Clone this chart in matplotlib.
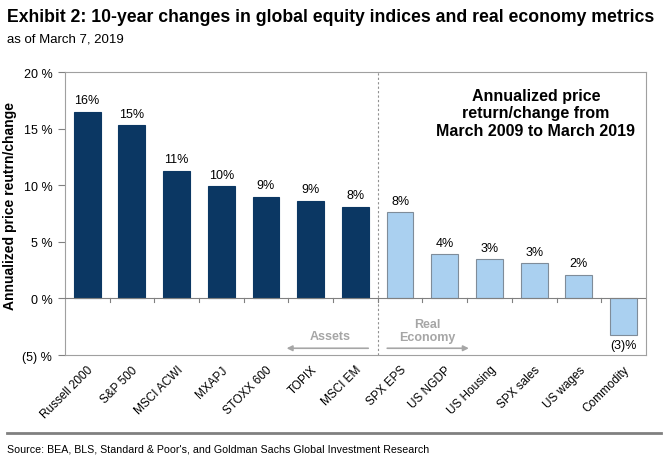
import matplotlib.pyplot as plt
from matplotlib.lines import Line2D

plt.rcParams['font.family'] = ['Liberation Sans', 'DejaVu Sans']

# data
categories = ['Russell 2000', 'S&P 500', 'MSCI ACWI', 'MXAPJ', 'STOXX 600', 'TOPIX',
              'MSCI EM', 'SPX EPS', 'US NGDP', 'US Housing', 'SPX sales', 'US wages',
              'Commodity']
values = [16.5, 15.3, 11.3, 9.9, 9.0, 8.65, 8.1, 7.6, 3.9, 3.45, 3.1, 2.1, -3.2]
value_labels = ['16%', '15%', '11%', '10%', '9%', '9%', '8%', '8%', '4%', '3%', '3%',
                '2%', '(3)%']
n_assets = 7
yticks = [-5, 0, 5, 10, 15, 20]
ytick_labels = ['(5) %', '0 %', '5 %', '10 %', '15 %', '20 %']

dark = '#0b3763'
light = '#aad0f0'

fig = plt.figure(figsize=(6.68, 4.60), dpi=100)
ax = fig.add_axes([0.097, 0.226, 0.87, 0.615])

x = list(range(len(categories)))
colors = [dark] * n_assets + [light] * (len(categories) - n_assets)
edges = [dark] * n_assets + ['#7f8c99'] * (len(categories) - n_assets)
ax.bar(x, values, width=0.6, color=colors, edgecolor=edges, linewidth=0.8, zorder=2)

for i, v in enumerate(values):
    if v >= 0:
        ax.text(i, v + 0.5, value_labels[i], ha='center', va='bottom', fontsize=9)
    else:
        ax.text(i, v - 0.4, value_labels[i], ha='center', va='top', fontsize=9)

ax.set_xlim(-0.5, len(categories) - 0.5)
ax.set_ylim(-5, 20)
ax.set_yticks(yticks)
ax.set_yticklabels(ytick_labels, fontsize=9)
ax.set_xticks(x)
ax.set_xticklabels(categories, rotation=45, ha='right', rotation_mode='anchor', fontsize=8.5)
ax.tick_params(axis='x', length=0, pad=6)
ax.tick_params(axis='y', direction='out', length=5, color='#808080', pad=4)

for s in ax.spines.values():
    s.set_color('#a0a0a0')
    s.set_linewidth(0.8)

# zero line with category separators
ax.axhline(0, color='#808080', linewidth=0.8, zorder=3)
for i in range(len(categories) - 1):
    ax.plot([i + 0.5, i + 0.5], [0, -0.35], color='#808080', linewidth=0.8, zorder=3)

# divider between assets and real economy
ax.axvline(n_assets - 0.5, color='#909090', linestyle=(0, (2, 2)), linewidth=0.8, zorder=1)

ax.set_ylabel('Annualized price reutrn/change', fontsize=10, fontweight='bold')
ax.yaxis.set_label_coords(-0.083, 0.53)

gray = '#a6a6a6'
ax.text(5.43, -3.3, 'Assets', ha='center', va='center', fontsize=9,
        fontweight='bold', color=gray)
ax.annotate('', xy=(4.4, -4.4), xytext=(6.35, -4.4),
            arrowprops=dict(arrowstyle='-|>', color=gray, lw=1.2, mutation_scale=8))
ax.text(7.62, -2.8, 'Real\nEconomy', ha='center', va='center', fontsize=9,
        fontweight='bold', color=gray, linespacing=1.1)
ax.annotate('', xy=(8.6, -4.4), xytext=(6.65, -4.4),
            arrowprops=dict(arrowstyle='-|>', color=gray, lw=1.2, mutation_scale=8))

ax.text(10.04, 16.4, 'Annualized price\nreturn/change from\nMarch 2009 to March 2019',
        ha='center', va='center', fontsize=11.5, fontweight='bold', linespacing=1.2)

fig.text(0.011, 0.962, 'Exhibit 2: 10-year changes in global equity indices and real economy metrics',
         fontsize=12.7, fontweight='bold', va='center')
fig.text(0.011, 0.915, 'as of March 7, 2019', fontsize=9.5, va='center')

fig.add_artist(Line2D([0.011, 0.99], [0.056, 0.056], color='#808080', linewidth=2))
fig.text(0.011, 0.022, "Source: BEA, BLS, Standard & Poor's, and Goldman Sachs Global Investment Research",
         fontsize=7.7, va='center')

fig.savefig('out.png', dpi=100)
